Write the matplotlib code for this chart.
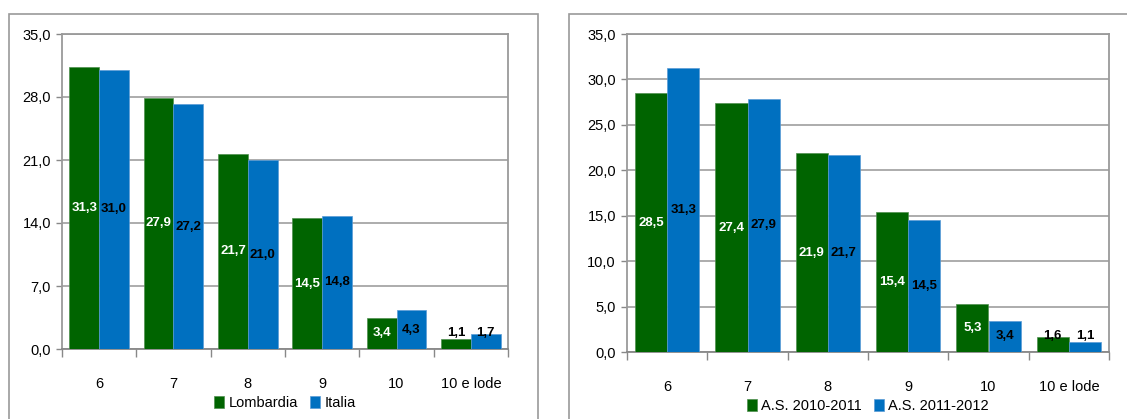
import numpy as np
import matplotlib.pyplot as plt
from matplotlib.patches import Rectangle
from matplotlib.ticker import FuncFormatter

plt.rcParams['font.family'] = ['Liberation Sans Narrow', 'Liberation Sans', 'DejaVu Sans']

categorie = ['6', '7', '8', '9', '10', '10 e lode']
lombardia = [31.3, 27.9, 21.7, 14.5, 3.4, 1.1]
italia = [31.0, 27.2, 21.0, 14.8, 4.3, 1.7]
as_2010 = [28.5, 27.4, 21.9, 15.4, 5.3, 1.6]
as_2011 = [31.3, 27.9, 21.7, 14.5, 3.4, 1.1]

verde = '#006400'
blu = '#0070C0'
grigio = '#A6A6A6'

W, H = 1127, 419
fig = plt.figure(figsize=(W / 100, H / 100), dpi=100)

# cornici dei due pannelli
for x0, x1 in [(9, 538), (569, 1150)]:
    fig.patches.append(Rectangle((x0 / W, -0.1), (x1 - x0) / W, (H - 14) / H + 0.1,
                                 transform=fig.transFigure, fill=False,
                                 edgecolor='#9A9A9A', linewidth=1.2))

virgola = FuncFormatter(lambda v, p: f'{v:.1f}'.replace('.', ','))


def pannello(rect, s1, s2, nomi, yticks):
    ax = fig.add_axes(rect)
    x = np.arange(len(categorie))
    w = 0.40
    b1 = ax.bar(x - w / 2, s1, w, color=verde, edgecolor='#4F8F4F', linewidth=0.5, label=nomi[0], zorder=3)
    b2 = ax.bar(x + w / 2, s2, w, color=blu, edgecolor='#5A9BD5', linewidth=0.5, label=nomi[1], zorder=3)
    for bars, vals, col in [(b1, s1, 'white'), (b2, s2, 'black')]:
        for r, v in zip(bars, vals):
            y = max(v / 2, 1.8)
            c = col if v > 3 else 'black'
            ax.text(r.get_x() + r.get_width() / 2, y, f'{v:.1f}'.replace('.', ','),
                    ha='center', va='center', color=c, fontsize=9.5,
                    fontweight='bold', zorder=4)
    ax.set_xlim(-0.5, len(categorie) - 0.5)
    ax.set_ylim(0, 35)
    ax.set_yticks(yticks)
    ax.yaxis.set_major_formatter(virgola)
    ax.set_xticks(np.arange(len(categorie) + 1) - 0.5)
    ax.set_xticklabels([])
    ax.set_xticks(x, minor=True)
    ax.set_xticklabels(categorie, minor=True)
    ax.tick_params(axis='x', which='major', length=6, color='#888888', width=1)
    ax.tick_params(axis='x', which='minor', length=0, pad=20, labelsize=10.5)
    ax.tick_params(axis='y', length=4, color='#888888', width=1, labelsize=10.5, pad=4)
    ax.grid(axis='y', color=grigio, linewidth=1.3, zorder=0)
    for s in ax.spines.values():
        s.set_color('#9A9A9A')
        s.set_linewidth(1.3)
    ax.spines['bottom'].set_color('#888888')
    ax.legend(loc='upper center', bbox_to_anchor=(0.5, -0.13), ncol=2, frameon=False,
              handlelength=0.7, handleheight=0.9, handletextpad=0.3,
              columnspacing=0.8, fontsize=10.5, borderaxespad=0)
    return ax


pannello([62 / W, (H - 349) / H, (508 - 62) / W, (349 - 34) / H],
         lombardia, italia, ['Lombardia', 'Italia'], np.arange(0, 36, 7))
pannello([627 / W, (H - 352) / H, (1109 - 627) / W, (352 - 34) / H],
         as_2010, as_2011, ['A.S. 2010-2011', 'A.S. 2011-2012'], np.arange(0, 36, 5))

fig.savefig('out.png', dpi=100)
